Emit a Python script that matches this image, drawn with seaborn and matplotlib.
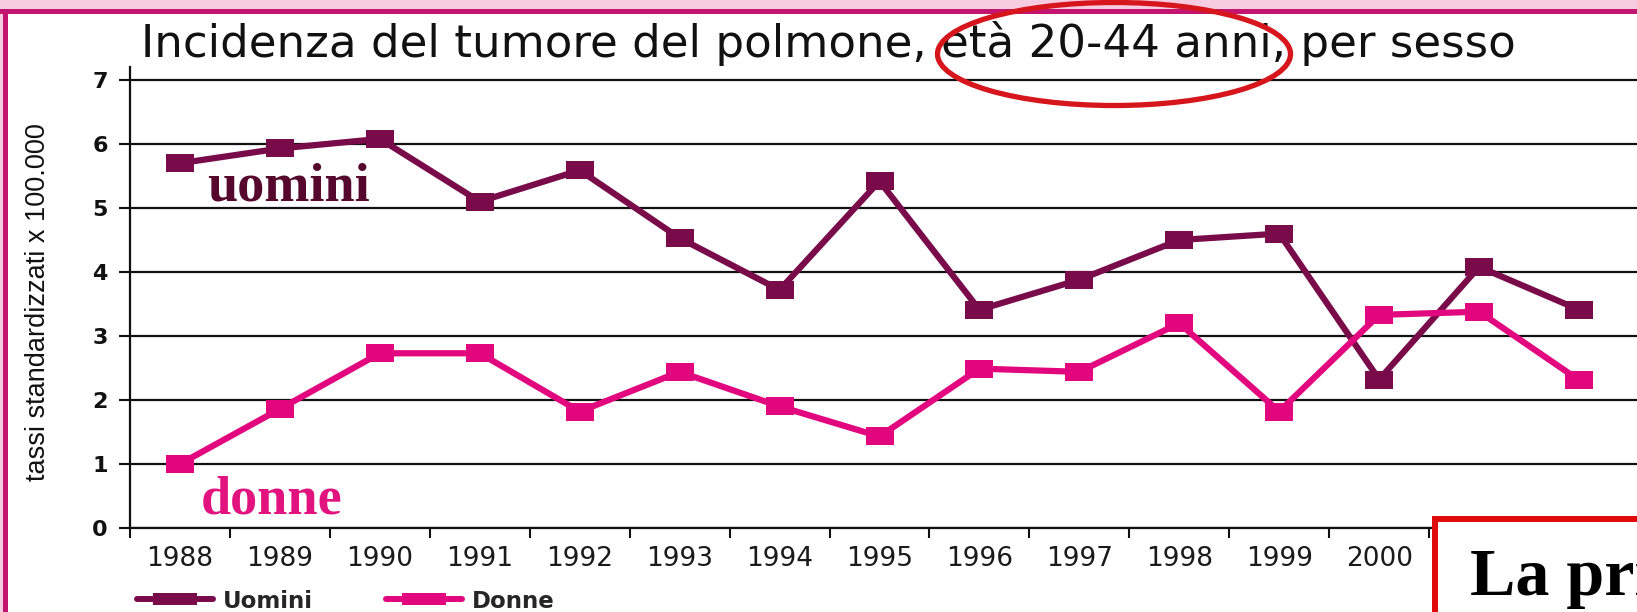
import numpy as np
import pandas as pd
import matplotlib
matplotlib.use("Agg")
import matplotlib.pyplot as plt
from matplotlib import font_manager
from matplotlib.lines import Line2D
from matplotlib.patches import Rectangle, Ellipse
from matplotlib.path import Path
import seaborn as sns

# --- data -----------------------------------------------------------------
anni = list(range(1988, 2003))
uomini = [5.70, 5.93, 6.08, 5.10, 5.59, 4.53, 3.72, 5.42, 3.41, 3.88, 4.50, 4.60, 2.32, 4.08, 3.41]
donne = [1.00, 1.86, 2.73, 2.73, 1.82, 2.44, 1.90, 1.43, 2.49, 2.44, 3.20, 1.82, 3.33, 3.38, 2.31]
serie = ["Uomini", "Donne"]
y_ticks = [0, 1, 2, 3, 4, 5, 6, 7]
# the last two year labels sit under the headline box
x_labels = ["1988", "1989", "1990", "1991", "1992", "1993", "1994", "1995",
            "1996", "1997", "1998", "1999", "2000", "", ""]
titolo = "Incidenza del tumore del polmone, età 20-44 anni, per sesso"
etichetta_y = "tassi standardizzati x 100.000"
nota_uomini = "uomini"
nota_donne = "donne"
testo_box = "La prima"

colori = {"Uomini": "#7A0B4B", "Donne": "#E2077F"}

# --- canvas ---------------------------------------------------------------
W, H, DPI = 1637, 612, 100
sns.set_style("white")
plt.rcParams["font.family"] = ["DejaVu Sans"]

fig = plt.figure(figsize=(W / DPI, H / DPI), dpi=DPI)
fig.patch.set_facecolor("white")


def fx(px):
    return px / W


def fy(py):
    return 1 - py / H


ax = fig.add_axes([fx(130), fy(528), 1 - fx(130), (528 - 67.2) / H])

df = pd.DataFrame({
    "anno": anni * 2,
    "tasso": uomini + donne,
    "sesso": ["Uomini"] * len(anni) + ["Donne"] * len(anni),
})

# flat rectangular markers
marker_dati = Path([(-1, -0.7), (1, -0.7), (1, 0.7), (-1, 0.7), (-1, -0.7)],
                   [Path.MOVETO, Path.LINETO, Path.LINETO, Path.LINETO, Path.CLOSEPOLY])
marker_leg = Path([(-1, -0.27), (1, -0.27), (1, 0.27), (-1, 0.27), (-1, -0.27)],
                  [Path.MOVETO, Path.LINETO, Path.LINETO, Path.LINETO, Path.CLOSEPOLY])

sns.lineplot(data=df, x="anno", y="tasso", hue="sesso", hue_order=serie,
             palette=colori, marker=marker_dati, markersize=19.5,
             markeredgewidth=0, linewidth=4.5, legend=False, errorbar=None,
             ax=ax, zorder=3)

ax.set_xlim(1987.5, 2002.58)
ax.set_ylim(0, 7.2)
ax.set_xlabel("")
ax.set_ylabel("")

# y axis
ax.set_yticks(y_ticks)
ax.set_yticklabels([str(v) for v in y_ticks], fontweight="bold", fontsize=16, color="#111111")
ax.tick_params(axis="y", length=8, width=1.5, pad=8, direction="out", color="#111111", left=True)
ax.yaxis.grid(True, color="#111111", linewidth=1.6)
ax.xaxis.grid(False)
ax.set_axisbelow(True)

# x axis: tick marks between years, labels on the years
ax.set_xticks(np.arange(1987.5, 2002.0, 1.0))
ax.tick_params(axis="x", which="major", length=7.5, width=1.5, direction="out",
               color="#111111", labelbottom=False, bottom=True)
ax.set_xticks(anni, minor=True)
ax.set_xticklabels(x_labels, minor=True)
ax.tick_params(axis="x", which="minor", length=0, pad=13, labelsize=19, labelcolor="#1a1a1a")

for s in ["top", "right"]:
    ax.spines[s].set_visible(False)
for s in ["left", "bottom"]:
    ax.spines[s].set_color("#111111")
    ax.spines[s].set_linewidth(1.6)

# series labels inside the plot
ax.text(1988.27, 5.12, nota_uomini, family="Liberation Serif", fontweight="bold",
        fontsize=39, color="#55072E", ha="left", va="baseline", zorder=4)
ax.text(1988.21, 0.23, nota_donne, family="Liberation Serif", fontweight="bold",
        fontsize=39, color="#E2127F", ha="left", va="baseline", zorder=4)

# title and y label
fig.text(fx(141), fy(57), titolo, fontsize=32.5, color="#111111", ha="left", va="baseline")

nomi = {f.name for f in font_manager.fontManager.ttflist}
if "Liberation Sans Narrow" in nomi:
    fam_y, size_y = "Liberation Sans Narrow", 24
else:
    fam_y, size_y = "Liberation Sans", 19.5
fig.text(fx(38), fy(302), etichetta_y, rotation=90, family=fam_y, fontsize=size_y,
         color="#111111", ha="center", va="center")

# legend
handles = [Line2D([], [], color=colori[s], linewidth=4.3, marker=marker_leg,
                  markersize=32, markeredgewidth=0) for s in serie]
fig.legend(handles, serie, loc="center left", bbox_to_anchor=(fx(137), fy(601)),
           ncol=2, frameon=False, prop={"weight": "bold", "size": 16.5},
           handlelength=3.3, handletextpad=0.45, columnspacing=3.2,
           borderpad=0, borderaxespad=0)

# page frame
fig.add_artist(Rectangle((0, fy(9)), 1, 9 / H, transform=fig.transFigure,
                         facecolor="#F7CCE0", edgecolor="none", zorder=6))
fig.add_artist(Rectangle((0, 0), fx(3.5), 1, transform=fig.transFigure,
                         facecolor="#F7CCE0", edgecolor="none", zorder=6))
fig.add_artist(Rectangle((0, fy(13.5)), 1, 4.5 / H, transform=fig.transFigure,
                         facecolor="#C3156F", edgecolor="none", zorder=7))
fig.add_artist(Rectangle((fx(3.5), 0), fx(4.5), fy(9), transform=fig.transFigure,
                         facecolor="#C3156F", edgecolor="none", zorder=7))

# highlight around the age range
fig.add_artist(Ellipse((fx(1114), fy(54)), 353 / W, 103 / H, transform=fig.transFigure,
                       fill=False, edgecolor="#D6161C", linewidth=3.8, zorder=10))

# boxed headline in the lower right corner
fig.add_artist(Rectangle((fx(1435), -0.1), 0.2, fy(518.5) + 0.1, transform=fig.transFigure,
                         facecolor="white", edgecolor="#E00A0A", linewidth=4.3, zorder=8))
fig.text(fx(1470), fy(595), testo_box, family="Liberation Serif", fontweight="bold",
         fontsize=49, color="black", ha="left", va="baseline", zorder=9)

fig.savefig("out.png", dpi=DPI)
